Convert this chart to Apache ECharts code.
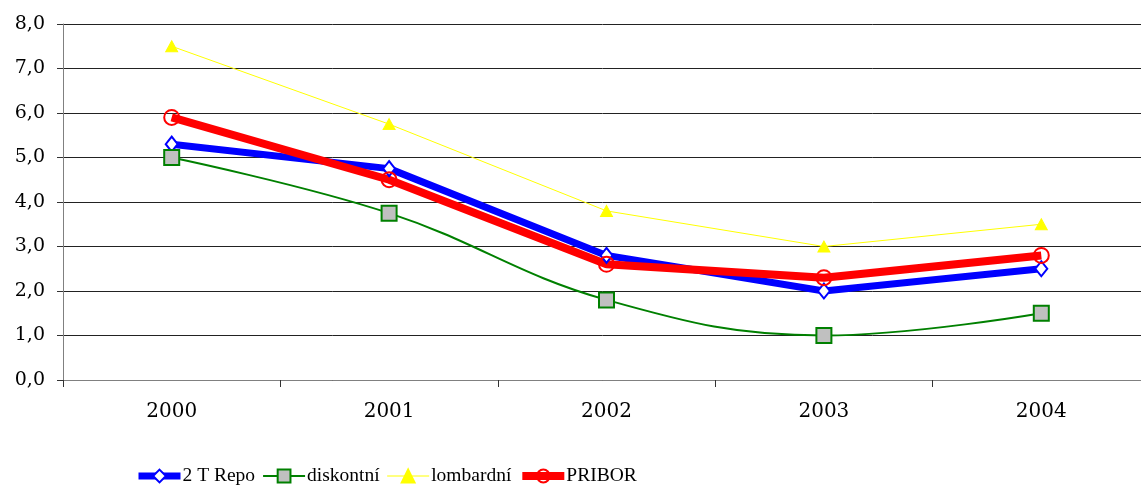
<!DOCTYPE html>
<html>
<head>
<meta charset="utf-8">
<script src="https://cdn.jsdelivr.net/npm/echarts@6/dist/echarts.min.js"></script>
<style>
  html, body { margin: 0; padding: 0; background: #fff; }
  #chart { width: 1141px; height: 485px; }
</style>
</head>
<body>
<div id="chart"></div>
<script>
// data
const years = ['2000', '2001', '2002', '2003', '2004'];
const repo = [5.3, 4.75, 2.8, 2.0, 2.5];
const diskontni = [5.0, 3.75, 1.8, 1.0, 1.5];
const lombardni = [7.5, 5.75, 3.8, 3.0, 3.5];
const pribor = [5.9, 4.5, 2.6, 2.3, 2.8];

const chart = echarts.init(document.getElementById('chart'));

const axisFont = 'DejaVu Serif';

chart.setOption({
    animation: false,
    // plot area runs a little past the right edge, as in the original
    grid: { left: 63, width: 1087, top: 24, height: 356, outerBoundsMode: 'none', containLabel: false },
    legend: {
        top: 461,
        left: 130,
        itemWidth: 42,
        itemHeight: 16,
        itemGap: 7,
        textStyle: { fontFamily: 'Liberation Serif', fontSize: 19.5, color: '#000', padding: [0, 0, 0, -3] },
        data: [
            { name: '2 T Repo', lineStyle: { width: 7, color: '#0000ff' } },
            { name: 'diskontní', lineStyle: { width: 2, color: '#008000' } },
            { name: 'lombardní', lineStyle: { width: 1, color: '#ffff00' } },
            { name: 'PRIBOR', lineStyle: { width: 8, color: '#ff0000' } }
        ]
    },
    xAxis: {
        type: 'category',
        data: years,
        boundaryGap: true,
        axisLine: { lineStyle: { color: '#808080', width: 1 } },
        axisTick: { show: true, length: 7, lineStyle: { color: '#333' } },
        axisLabel: { fontFamily: axisFont, fontSize: 20, color: '#000', margin: 22 },
        splitLine: { show: false }
    },
    yAxis: {
        type: 'value',
        min: 0,
        max: 8,
        interval: 1,
        axisLine: { show: true, lineStyle: { color: '#808080', width: 1 } },
        axisTick: { show: true, length: 6, lineStyle: { color: '#333' } },
        axisLabel: {
            fontFamily: axisFont, fontSize: 19, color: '#000', margin: 18,
            formatter: v => v.toFixed(1).replace('.', ',')
        },
        splitLine: { lineStyle: { color: '#222', width: 1 } }
    },
    series: [
        {
            name: '2 T Repo',
            type: 'line',
            data: repo,
            symbol: 'diamond',
            symbolSize: [12, 15],
            lineStyle: { color: '#0000ff', width: 7 },
            itemStyle: { color: '#fff', borderColor: '#0000ff', borderWidth: 2 }
        },
        {
            name: 'diskontní',
            type: 'line',
            data: diskontni,
            smooth: 0.4,
            symbol: 'rect',
            symbolSize: 15,
            lineStyle: { color: '#008000', width: 2 },
            itemStyle: { color: '#c0c0c0', borderColor: '#008000', borderWidth: 2 }
        },
        {
            name: 'lombardní',
            type: 'line',
            data: lombardni,
            symbol: 'triangle',
            symbolSize: [12, 11],
            lineStyle: { color: '#ffff00', width: 1 },
            itemStyle: { color: '#ffff00', borderColor: '#ffff00', borderWidth: 1 }
        },
        {
            name: 'PRIBOR',
            type: 'line',
            data: pribor,
            symbol: 'circle',
            symbolSize: 15,
            lineStyle: { color: '#ff0000', width: 8 },
            itemStyle: { color: 'rgba(255,255,255,0)', borderColor: '#ff0000', borderWidth: 2 }
        }
    ]
});
</script>
</body>
</html>
